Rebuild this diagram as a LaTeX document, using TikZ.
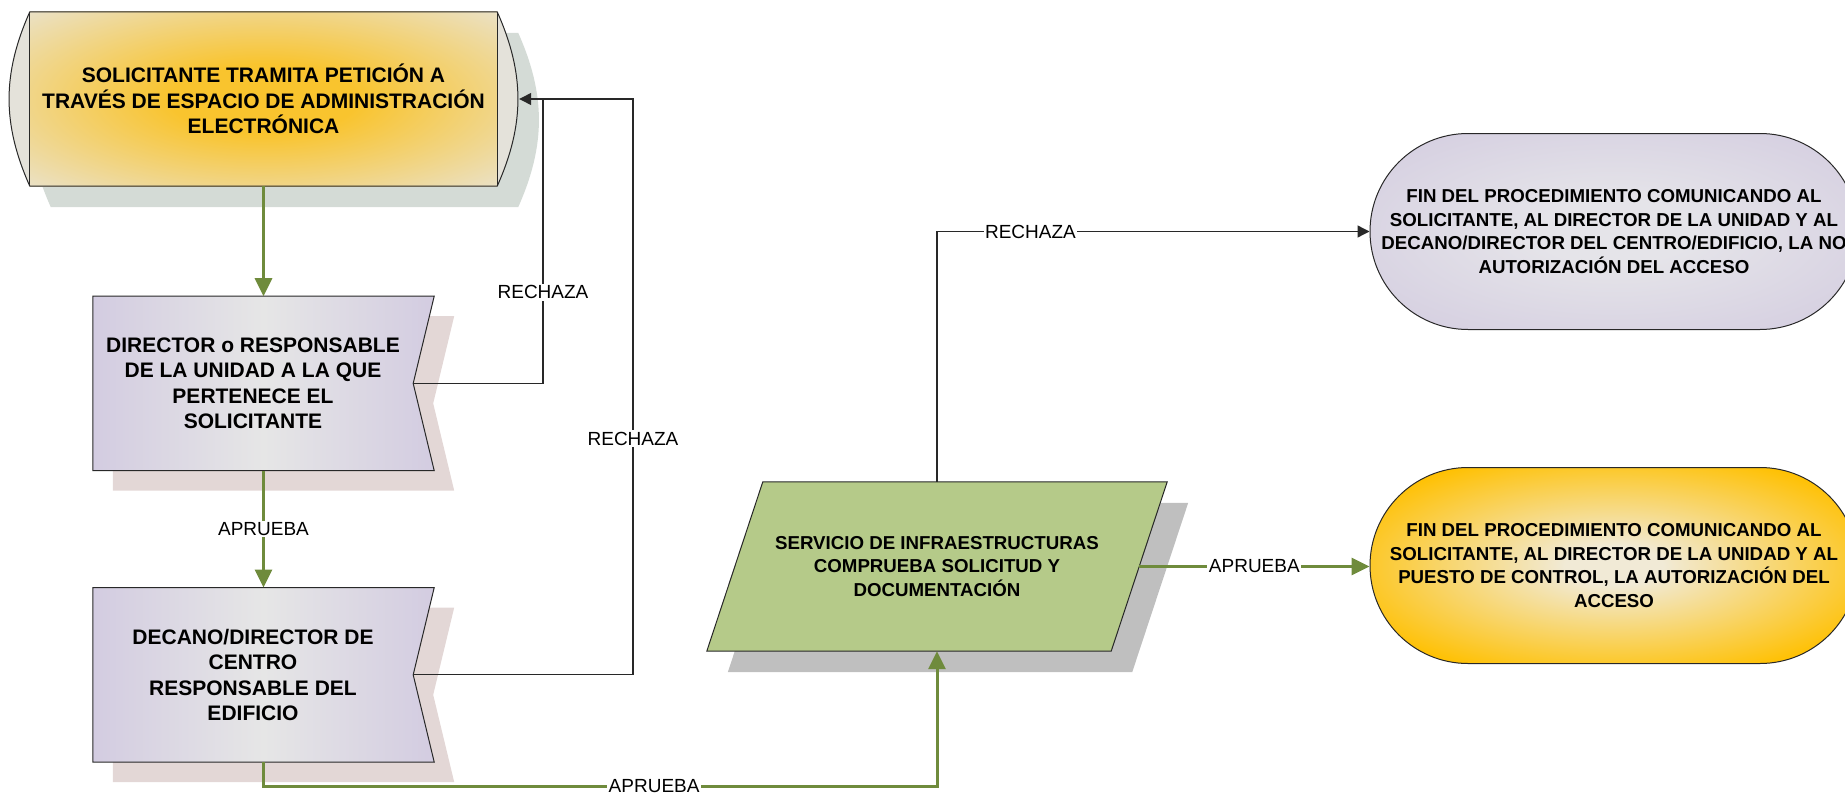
\documentclass[tikz,border=0pt]{standalone}
\usepackage{fontspec}
\setmainfont{Liberation Sans}
\usepackage{tikz}
\usetikzlibrary{arrows.meta,positioning,shapes,calc}
\pgfdeclarelayer{bg}
\pgfsetlayers{bg,main}

\definecolor{solOrange}{RGB}{249,196,46}
\definecolor{solBeige}{RGB}{233,228,213}
\definecolor{solCap}{RGB}{228,226,218}
\definecolor{solShade}{RGB}{212,219,214}
\definecolor{dirEdge}{RGB}{211,204,225}
\definecolor{dirMid}{RGB}{230,230,230}
\definecolor{dirShade}{RGB}{227,215,214}
\definecolor{srvGreen}{RGB}{181,202,137}
\definecolor{srvShade}{RGB}{191,191,191}
\definecolor{lavEdge}{RGB}{208,200,222}
\definecolor{lavMid}{RGB}{229,228,233}
\definecolor{gold}{RGB}{255,192,0}
\definecolor{cream}{RGB}{241,234,214}
\definecolor{okC}{RGB}{111,139,60}
\definecolor{lineC}{RGB}{40,40,40}

\pgfdeclareradialshading{solglow}{\pgfpoint{0bp}{0bp}}{color(0bp)=(solOrange);color(10bp)=(solOrange);color(38bp)=(solBeige);color(50bp)=(solBeige)}
\pgfdeclareradialshading{lavglow}{\pgfpoint{0bp}{0bp}}{color(0bp)=(lavMid);color(8bp)=(lavMid);color(40bp)=(lavEdge);color(50bp)=(lavEdge)}
\pgfdeclareradialshading{goldglow}{\pgfpoint{0bp}{0bp}}{color(0bp)=(cream);color(5bp)=(cream);color(30bp)=(gold);color(50bp)=(gold)}

\begin{document}
\begin{tikzpicture}[x=1pt,y=-1pt,
	box node/.style={inner sep=0pt,align=center,font=\bfseries\fontsize{21}{25.5}\selectfont},
	end node/.style={rounded rectangle,draw=lineC,line width=1pt,shade,inner sep=0pt,align=center,
		minimum width=488pt,minimum height=196pt,font=\bfseries\fontsize{18.7}{23.5}\selectfont},
	ok line/.style={draw=okC,line width=3pt,-{Triangle[length=18pt,width=17pt]}},
	no line/.style={draw=lineC,line width=1.3pt},
	tag/.style={fill=white,inner sep=1.5pt,font=\fontsize{19}{22}\selectfont}]

	\useasboundingbox (0,0) rectangle (1845,795);
	\clip (0,0) rectangle (1845,795);

	\node[box node,minimum width=467pt,minimum height=174pt] (solicitud) at (263.5,99)
		{SOLICITANTE TRAMITA PETICIÓN A\\TRAVÉS DE ESPACIO DE ADMINISTRACIÓN\\ELECTRÓNICA};
	\node[box node,minimum width=320pt,minimum height=174pt] (director) [below=110pt of solicitud,xshift=-10.5pt]
		{DIRECTOR o RESPONSABLE\\DE LA UNIDAD A LA QUE\\PERTENECE EL\\SOLICITANTE};
	\node[box node,minimum width=320pt,minimum height=174pt] (decano) [below=117pt of director]
		{DECANO/DIRECTOR DE\\CENTRO\\RESPONSABLE DEL\\EDIFICIO};
	\node[box node,minimum width=404pt,minimum height=169pt,font=\bfseries\fontsize{18.7}{23.5}\selectfont] (servicio) at (937,566.5)
		{SERVICIO DE INFRAESTRUCTURAS\\COMPRUEBA SOLICITUD Y\\DOCUMENTACIÓN};
	\node[end node,shading=lavglow] (finNo) at (1614,231.5)
		{FIN DEL PROCEDIMIENTO COMUNICANDO AL\\SOLICITANTE, AL DIRECTOR DE LA UNIDAD Y AL\\DECANO/DIRECTOR DEL CENTRO/EDIFICIO, LA NO\\AUTORIZACIÓN DEL ACCESO};
	\node[end node,shading=goldglow] (finSi) at (1614,565.5)
		{FIN DEL PROCEDIMIENTO COMUNICANDO AL\\SOLICITANTE, AL DIRECTOR DE LA UNIDAD Y AL\\PUESTO DE CONTROL, LA AUTORIZACIÓN DEL\\ACCESO};

	\begin{pgfonlayer}{bg}
		% shadows
		\fill[solShade] ([shift={(21,21)}]solicitud.north west) -- ([shift={(21,21)}]solicitud.north east)
			to[bend left=24] ([shift={(21,21)}]solicitud.south east) -- ([shift={(21,21)}]solicitud.south west)
			to[bend left=24] ([shift={(21,21)}]solicitud.north west) -- cycle;
		\fill[dirShade] ([shift={(20,20)}]director.north west) -- ([shift={(41,20)}]director.north east) -- ([shift={(20,20)}]director.east)
			-- ([shift={(41,20)}]director.south east) -- ([shift={(20,20)}]director.south west) -- cycle;
		\fill[dirShade] ([shift={(20,20)}]decano.north west) -- ([shift={(41,20)}]decano.north east) -- ([shift={(20,20)}]decano.east)
			-- ([shift={(41,20)}]decano.south east) -- ([shift={(20,20)}]decano.south west) -- cycle;
		\fill[srvShade] ([shift={(49,21)}]servicio.north west) -- ([shift={(49,21)}]servicio.north east)
			-- ([shift={(-7,21)}]servicio.south east) -- ([shift={(-7,21)}]servicio.south west) -- cycle;
		% shapes
		\path[shade,shading=solglow] (solicitud.north west) rectangle (solicitud.south east);
		\fill[solCap] (solicitud.north east) to[bend left=24] (solicitud.south east) -- cycle
			(solicitud.south west) to[bend left=24] (solicitud.north west) -- cycle;
		\draw[lineC,line width=1pt] (solicitud.north west) -- (solicitud.north east)
			to[bend left=24] (solicitud.south east) -- (solicitud.south west) to[bend left=24] (solicitud.north west) -- cycle;
		\draw[lineC,line width=1pt] (solicitud.north west) -- (solicitud.south west) (solicitud.north east) -- (solicitud.south east);
		\path[draw=lineC,line width=1pt,left color=dirEdge,right color=dirEdge,middle color=dirMid] (director.north west)
			-- ([xshift=21pt]director.north east) -- (director.east) -- ([xshift=21pt]director.south east) -- (director.south west) -- cycle;
		\path[draw=lineC,line width=1pt,left color=dirEdge,right color=dirEdge,middle color=dirMid] (decano.north west)
			-- ([xshift=21pt]decano.north east) -- (decano.east) -- ([xshift=21pt]decano.south east) -- (decano.south west) -- cycle;
		\path[draw=lineC,line width=1pt,fill=srvGreen] ([xshift=28pt]servicio.north west) -- ([xshift=28pt]servicio.north east)
			-- ([xshift=-28pt]servicio.south east) -- ([xshift=-28pt]servicio.south west) -- cycle;
	\end{pgfonlayer}

	\coordinate (retA) at (543,99);
	\coordinate (retB) at (633,99);

	\draw[ok line] (solicitud.south) -- (solicitud.south |- director.north);
	\draw[ok line] (solicitud.south |- director.south) -- node[tag] {APRUEBA} (solicitud.south |- decano.north);
	\draw[no line] (director.east) -| node[tag,pos=.66] {RECHAZA} (retA);
	\draw[no line,-{Triangle[length=12pt,width=12pt]}] (decano.east) -| node[tag,pos=.705] {RECHAZA} (retB)
		-- ([xshift=22pt]solicitud.east);
	\draw[ok line] (solicitud.south |- decano.south) -- ++(0,24) -| node[tag,pos=.29] {APRUEBA} (servicio.south);
	\draw[no line,-{Triangle[length=12pt,width=12pt]}] (servicio.north) |- node[tag,pos=.608] {RECHAZA} (finNo.west);
	\draw[ok line] (servicio.east) -- node[tag] {APRUEBA} (servicio.east -| finSi.west);

\end{tikzpicture}
\end{document}
